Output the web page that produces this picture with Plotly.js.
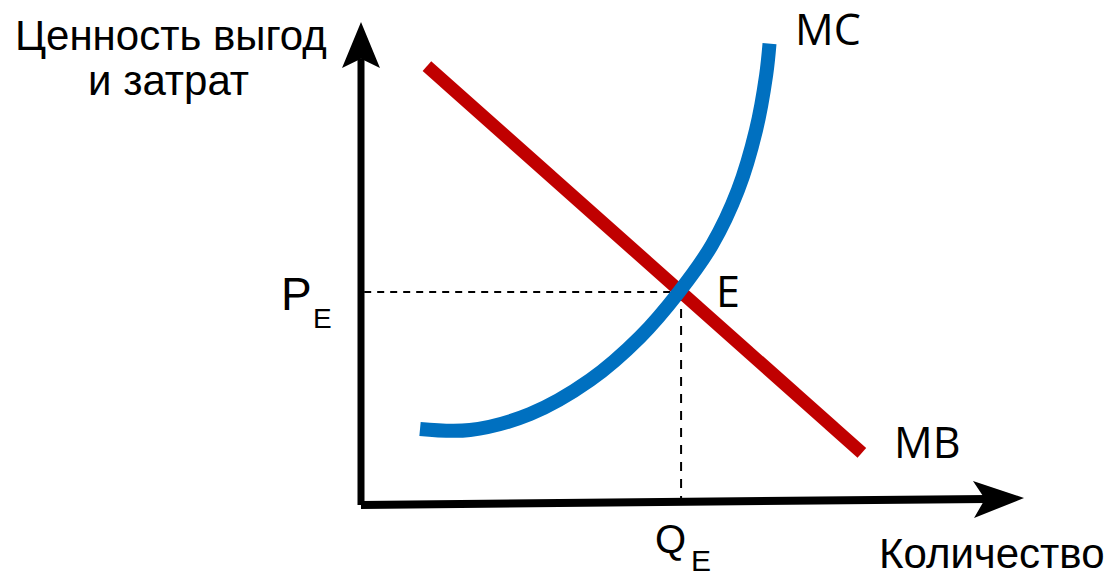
<!DOCTYPE html>
<html>
<head>
<meta charset="utf-8">
<script src="https://cdn.plot.ly/plotly-3.0.1.min.js"></script>
<style>
  html, body { margin: 0; padding: 0; background: #ffffff; }
  #chart { width: 1109px; height: 573px; }
</style>
</head>
<body>
<div id="chart"></div>
<script>
// Marginal benefit (straight, downward sloping)
const mbQ = [1.24, 9.42];
const mbV = [8.24, 0.98];

// Marginal cost (convex, rising)
const mcQ = [1.11, 2.05, 3.18, 4.31, 5.25, 5.98, 6.60, 7.09, 7.43, 7.62, 7.683];
const mcV = [1.427, 1.408, 1.709, 2.347, 3.155, 4.0, 4.883, 5.915, 7.042, 8.075, 8.663];

// Equilibrium point E
const eqQ = 6.02;
const eqV = 4.0;

// Axis extents (value units)
const yAxisTop = 9.07;
const xAxisEnd = 12.47;
const xAxisRise = 0.131;

// Text labels
const yTitleLines = ['Ценность выгод', 'и затрат'];
const xTitle = 'Количество';
const curveLabels = ['MC', 'MB'];
const pointLabel = 'E';

const PX = 53.17, PY = 53.25;          // pixels per unit
const X0 = 361, Y0 = 505;               // origin in the 1109x573 frame
const W = 1109, H = 573;

const xr = [-X0 / PX, (W - X0) / PX];
const yr = [-(H - Y0) / PY, Y0 / PY];

const traces = [
  {
    x: mbQ, y: mbV, mode: 'lines', type: 'scatter',
    line: { color: '#C00000', width: 13 },
    hoverinfo: 'skip', showlegend: false
  },
  {
    x: mcQ, y: mcV, mode: 'lines', type: 'scatter',
    line: { color: '#0070C0', width: 14, shape: 'spline', smoothing: 1 },
    hoverinfo: 'skip', showlegend: false
  }
];

const ax = 0.357, ay = 0.863, notch = 0.69;   // arrowhead half-width, length, notch depth
const shapes = [
  // guide lines to the equilibrium
  { type: 'line', xref: 'x', yref: 'y', x0: 0.06, y0: eqV, x1: eqQ, y1: eqV,
    line: { color: '#000', width: 2, dash: '7px,6px' }, layer: 'below' },
  { type: 'line', xref: 'x', yref: 'y', x0: eqQ, y0: eqV, x1: eqQ, y1: 0.07,
    line: { color: '#000', width: 2, dash: '9px,8px' }, layer: 'below' },
  // vertical axis with arrow
  { type: 'line', xref: 'x', yref: 'y', x0: 0, y0: 0, x1: 0, y1: yAxisTop - notch,
    line: { color: '#000', width: 7 } },
  { type: 'path', xref: 'x', yref: 'y',
    path: `M 0,${yAxisTop} L ${-ax},${yAxisTop - ay} L 0,${yAxisTop - notch} L ${ax},${yAxisTop - ay} Z`,
    fillcolor: '#000', line: { width: 0 } },
  // horizontal axis with arrow
  { type: 'line', xref: 'x', yref: 'y', x0: 0, y0: 0, x1: xAxisEnd - 0.7, y1: xAxisRise * 0.87,
    line: { color: '#000', width: 8 } },
  { type: 'path', xref: 'x', yref: 'y',
    path: `M ${xAxisEnd},${xAxisRise} L ${xAxisEnd - 0.96},${xAxisRise + 0.32} L ${xAxisEnd - 0.734},${xAxisRise - 0.018} L ${xAxisEnd - 0.94},${xAxisRise - 0.375} Z`,
    fillcolor: '#000', line: { width: 0 } }
];

const sans = 'Liberation Sans, Arial, sans-serif';
const open = 'Open Sans, sans-serif';
const q = px => (px - X0) / PX;
const v = py => (Y0 - py) / PY;

function label(text, x, y, size, family) {
  return { text, x, y, xref: 'x', yref: 'y', showarrow: false,
           xanchor: 'center', yanchor: 'middle',
           font: { family, size, color: '#000' } };
}

const annotations = [
  label(yTitleLines[0], q(171), v(35.5), 42, sans),
  label(yTitleLines[1], q(168), v(80.5), 42, sans),
  label(xTitle, q(992), v(553), 42, sans),
  label(curveLabels[0], q(828), v(28.5), 43, open),
  label(curveLabels[1], q(927), v(441), 43, open),
  label(pointLabel, q(727.5), v(290), 43, open),
  label('P', q(296), v(294), 46, sans),
  label('E', q(322.5), v(318), 28, sans),
  label('Q', q(670), v(539), 40, sans),
  label('E', q(700.5), v(560), 30, sans)
];

const layout = {
  width: W, height: H,
  margin: { l: 0, r: 0, t: 0, b: 0 },
  paper_bgcolor: '#ffffff', plot_bgcolor: '#ffffff',
  xaxis: { range: xr, visible: false, fixedrange: true },
  yaxis: { range: yr, visible: false, fixedrange: true },
  shapes, annotations, showlegend: false
};

Plotly.newPlot('chart', traces, layout, { displayModeBar: false, staticPlot: true });
</script>
</body>
</html>
